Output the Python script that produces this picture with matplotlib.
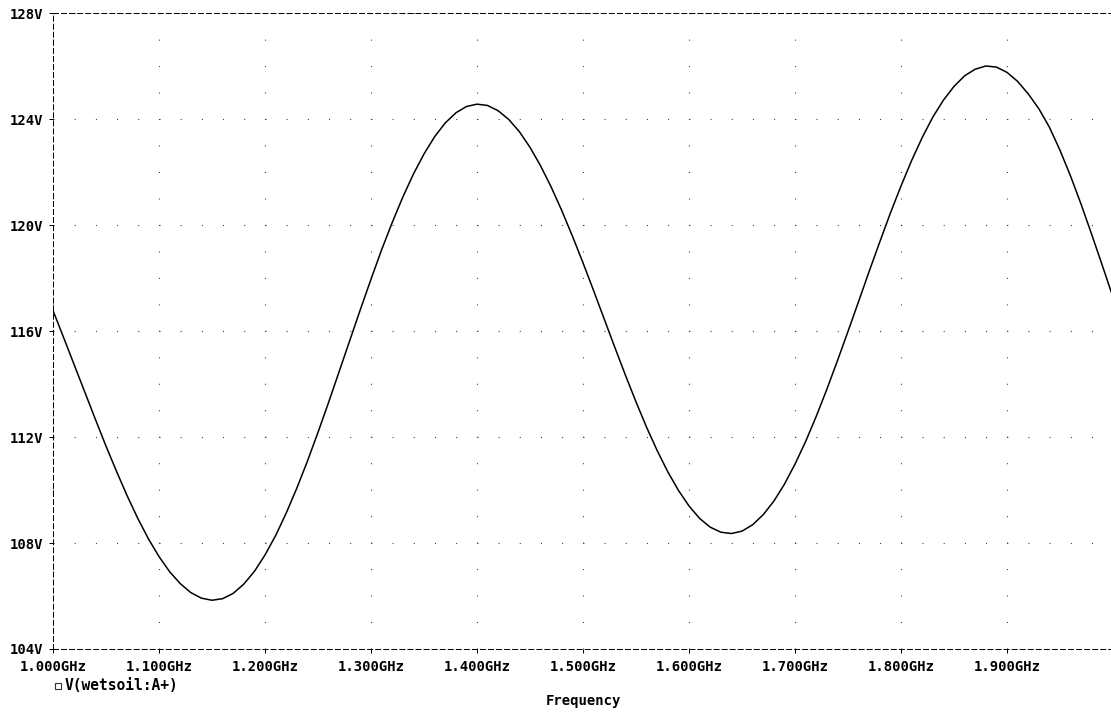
import numpy as np
import matplotlib
matplotlib.use("Agg")
import matplotlib.pyplot as plt
from matplotlib.lines import Line2D

# trace, every 10 MHz
freq_ghz = [1.00, 1.01, 1.02, 1.03, 1.04, 1.05, 1.06, 1.07, 1.08, 1.09,
            1.10, 1.11, 1.12, 1.13, 1.14, 1.15, 1.16, 1.17, 1.18, 1.19,
            1.20, 1.21, 1.22, 1.23, 1.24, 1.25, 1.26, 1.27, 1.28, 1.29,
            1.30, 1.31, 1.32, 1.33, 1.34, 1.35, 1.36, 1.37, 1.38, 1.39,
            1.40, 1.41, 1.42, 1.43, 1.44, 1.45, 1.46, 1.47, 1.48, 1.49,
            1.50, 1.51, 1.52, 1.53, 1.54, 1.55, 1.56, 1.57, 1.58, 1.59,
            1.60, 1.61, 1.62, 1.63, 1.64, 1.65, 1.66, 1.67, 1.68, 1.69,
            1.70, 1.71, 1.72, 1.73, 1.74, 1.75, 1.76, 1.77, 1.78, 1.79,
            1.80, 1.81, 1.82, 1.83, 1.84, 1.85, 1.86, 1.87, 1.88, 1.89,
            1.90, 1.91, 1.92, 1.93, 1.94, 1.95, 1.96, 1.97, 1.98, 1.99,
            2.00]
volts = [116.78, 115.76, 114.73, 113.70, 112.67, 111.66, 110.70, 109.78, 108.93, 108.16,
         107.49, 106.92, 106.47, 106.13, 105.92, 105.84, 105.90, 106.10, 106.45, 106.93,
         107.55, 108.28, 109.13, 110.07, 111.09, 112.18, 113.31, 114.48, 115.65, 116.82,
         117.96, 119.07, 120.10, 121.06, 121.93, 122.69, 123.34, 123.86, 124.24, 124.48,
         124.57, 124.52, 124.32, 123.99, 123.53, 122.94, 122.24, 121.44, 120.55, 119.59,
         118.58, 117.53, 116.46, 115.39, 114.34, 113.33, 112.37, 111.49, 110.69, 109.99,
         109.40, 108.93, 108.60, 108.41, 108.36, 108.45, 108.69, 109.07, 109.58, 110.22,
         110.98, 111.83, 112.78, 113.80, 114.88, 115.99, 117.12, 118.26, 119.37, 120.46,
         121.48, 122.44, 123.31, 124.08, 124.72, 125.24, 125.64, 125.89, 126.01, 125.97,
         125.77, 125.43, 124.96, 124.40, 123.70, 122.83, 121.85, 120.78, 119.64, 118.47,
         117.28]

x_ticks = [1.0, 1.1, 1.2, 1.3, 1.4, 1.5, 1.6, 1.7, 1.8, 1.9]
x_labels = ["1.000GHz", "1.100GHz", "1.200GHz", "1.300GHz", "1.400GHz",
            "1.500GHz", "1.600GHz", "1.700GHz", "1.800GHz", "1.900GHz"]
y_ticks = [104, 108, 112, 116, 120, 124, 128]
y_labels = ["104V", "108V", "112V", "116V", "120V", "124V", "128V"]
trace_name = "V(wetsoil:A+)"

plt.rcParams['lines.scale_dashes'] = False
plt.rcParams['font.family'] = ['DejaVu Sans Mono']
plt.rcParams['font.weight'] = 'bold'

fig = plt.figure(figsize=(11.11, 7.12), dpi=100)
ax = fig.add_axes([53/1111, 63/712, 1060/1111, 635.7/712])

ax.plot(freq_ghz, volts, color='black', lw=1.1)

ax.set_xlim(1.0, 2.0)
ax.set_ylim(104, 128)
ax.set_xticks(x_ticks)
ax.set_xticklabels(x_labels)
ax.set_yticks(y_ticks)
ax.set_yticklabels(y_labels)
ax.tick_params(axis='both', direction='out', length=3, width=0.72,
               labelsize=10, colors='black')
ax.tick_params(axis='x', pad=5)
ax.tick_params(axis='y', pad=4)

# dotted grid: rows dot every 0.02 GHz, columns dot every 1 V
ax.yaxis.grid(True, color='#333333', lw=0.8, linestyle=(0, (0.72, 14.54)))
ax.xaxis.grid(True, color='#333333', lw=0.8, linestyle=(0, (0.72, 18.34)))

for side in ['top', 'bottom', 'left', 'right']:
    ax.spines[side].set_linestyle((0, (3.6, 2.2)))
    ax.spines[side].set_linewidth(0.72)
    ax.spines[side].set_color('black')

ax.set_xlabel("Frequency", fontsize=10, fontweight='bold', labelpad=14)

# trace legend under the axis
fig.add_artist(Line2D([58/1111], [1 - 686/712], marker='s', ms=4, mfc='white',
                      mec='#333333', mew=0.8, transform=fig.transFigure))
fig.text(65/1111, 1 - 686/712, trace_name, fontsize=10.5, fontweight='bold',
         va='center', ha='left')

fig.savefig("out.png", dpi=100)
